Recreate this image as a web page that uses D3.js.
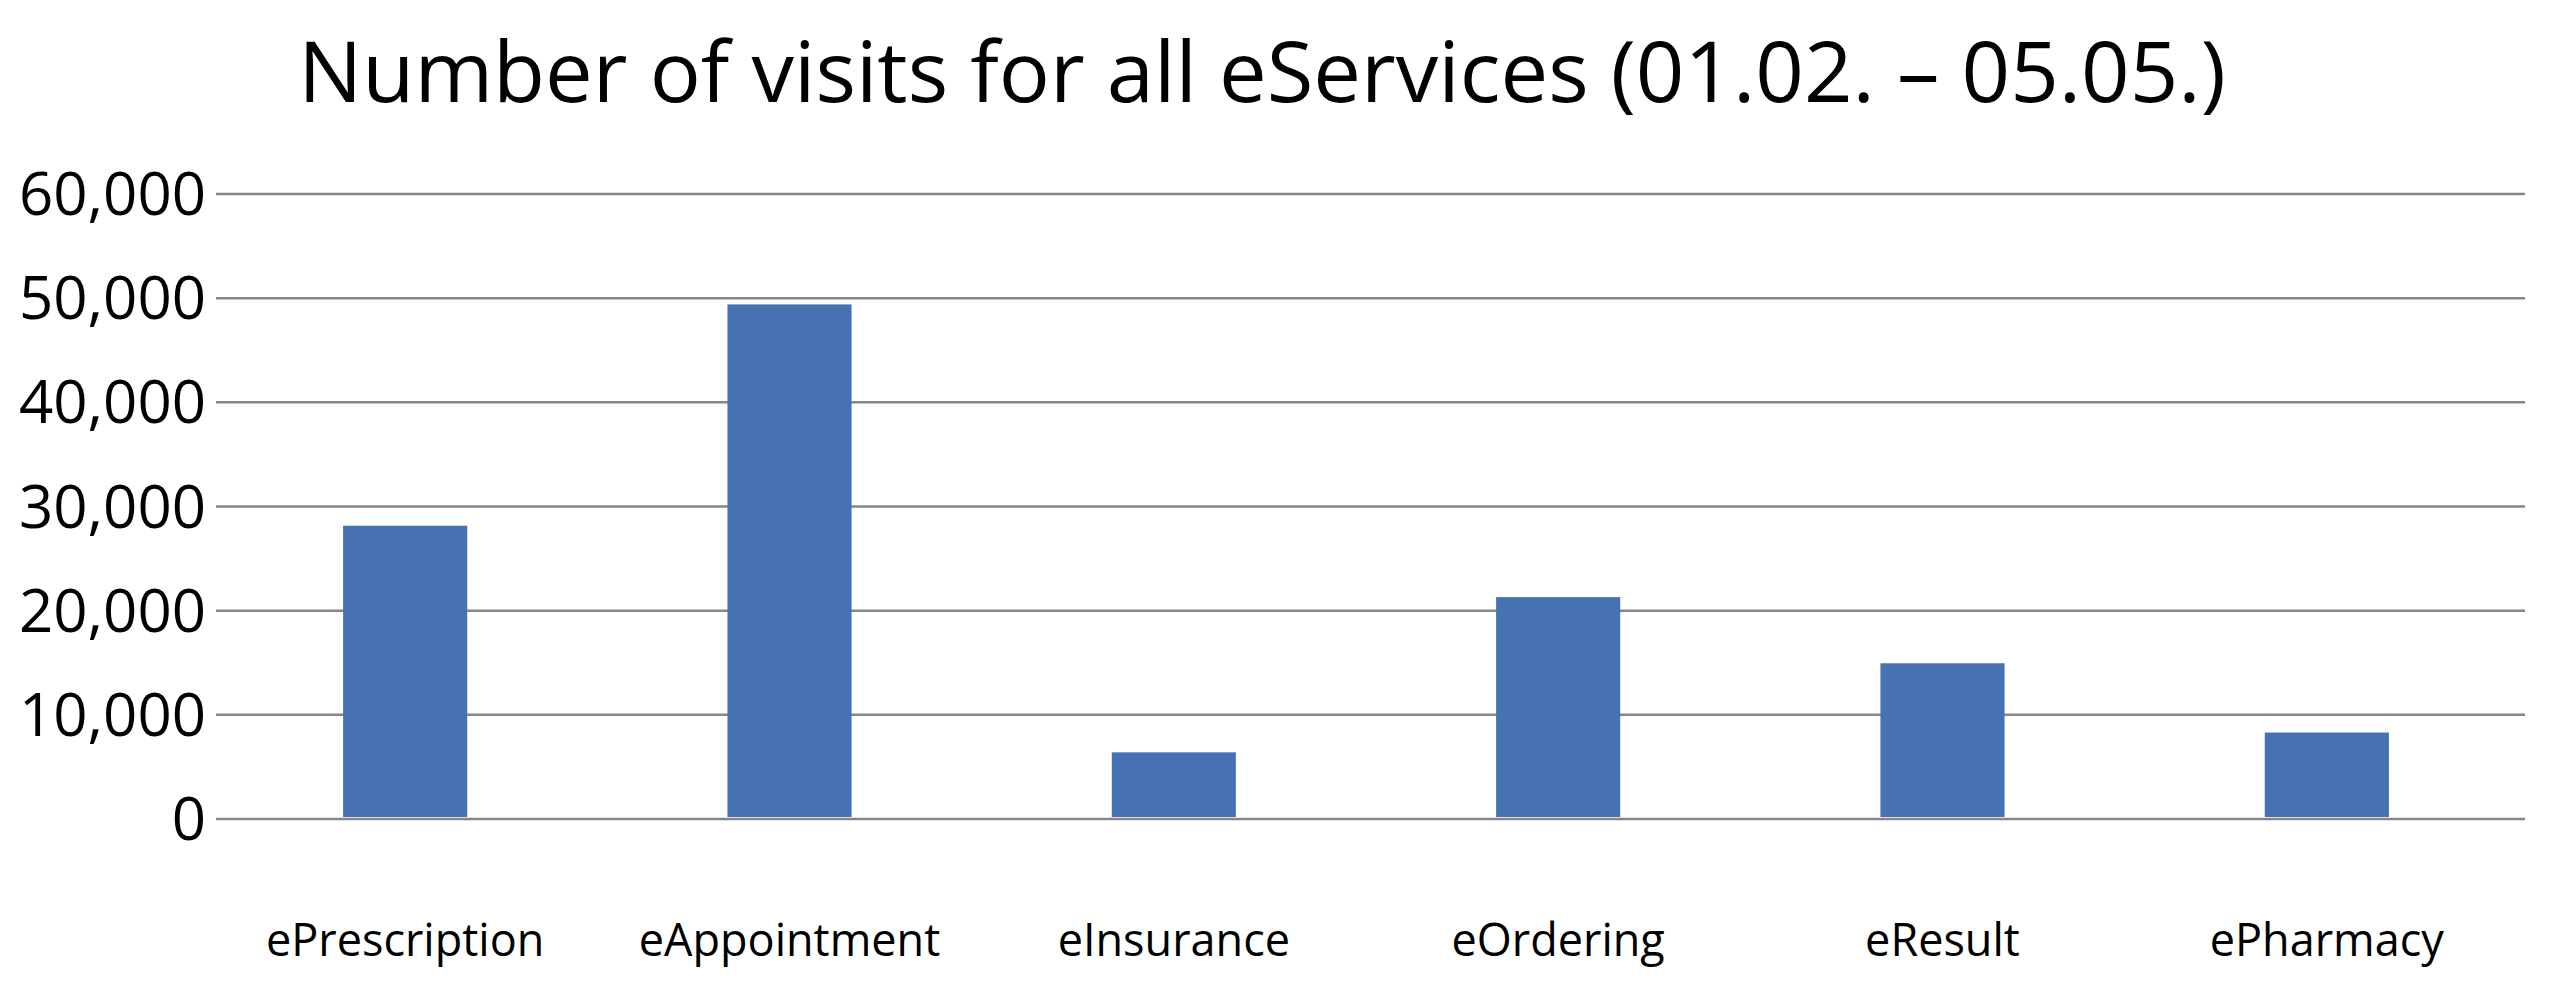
<!DOCTYPE html>
<html lang="en">
<head>
    <meta charset="UTF-8">
    <title>Number of visits for all eServices</title>
    <script src="https://cdn.jsdelivr.net/npm/d3@7"></script>
    <style>
        body { margin: 0; background: #fff; }
        text { font-family: "Open Sans", "Noto Sans", sans-serif; fill: #000; }
        .grid line { stroke: #868686; stroke-width: 2.5px; }
        .bar { fill: #4672b4; }
    </style>
</head>
<body>
    <svg width="2549" height="996"></svg>

    <script>
        // data
        const services = ["ePrescription", "eAppointment", "eInsurance", "eOrdering", "eResult", "ePharmacy"];
        const visits = [28150, 49400, 6400, 21300, 14950, 8300];
        const yTicks = [0, 10000, 20000, 30000, 40000, 50000, 60000];
        const title = "Number of visits for all eServices (01.02. \u2013 05.05.)";

        const svg = d3.select("svg");

        // plot area
        const plot = { left: 216, right: 2525, top: 194, bottom: 819 };

        const x = d3.scaleBand()
            .domain(services)
            .range([213, 2519])
            .paddingInner(0.677)
            .paddingOuter(0.677 / 2);

        const y = d3.scaleLinear()
            .domain([0, 60000])
            .range([plot.bottom, plot.top]);

        const fmt = d3.format(",");

        // gridlines (including the zero line)
        svg.append("g")
            .attr("class", "grid")
            .selectAll("line")
            .data(yTicks)
            .join("line")
            .attr("x1", plot.left)
            .attr("x2", plot.right)
            .attr("y1", d => y(d))
            .attr("y2", d => y(d));

        // y labels
        svg.append("g")
            .selectAll("text")
            .data(yTicks)
            .join("text")
            .attr("x", 206)
            .attr("y", d => y(d) + 21)
            .attr("text-anchor", "end")
            .style("font-size", "60px")
            .text(d => fmt(d));

        // bars
        svg.append("g")
            .selectAll("rect")
            .data(services)
            .join("rect")
            .attr("class", "bar")
            .attr("x", d => x(d))
            .attr("width", x.bandwidth())
            .attr("y", (d, i) => y(visits[i]))
            .attr("height", (d, i) => y(0) - 2 - y(visits[i]));

        // category labels
        svg.append("g")
            .selectAll("text")
            .data(services)
            .join("text")
            .attr("x", d => x(d) + x.bandwidth() / 2)
            .attr("y", 956)
            .attr("text-anchor", "middle")
            .style("font-size", "45px")
            .text(d => d);

        // title
        svg.append("text")
            .attr("x", 1262)
            .attr("y", 102)
            .attr("text-anchor", "middle")
            .style("font-size", "85px")
            .text(title);
    </script>
</body>
</html>
